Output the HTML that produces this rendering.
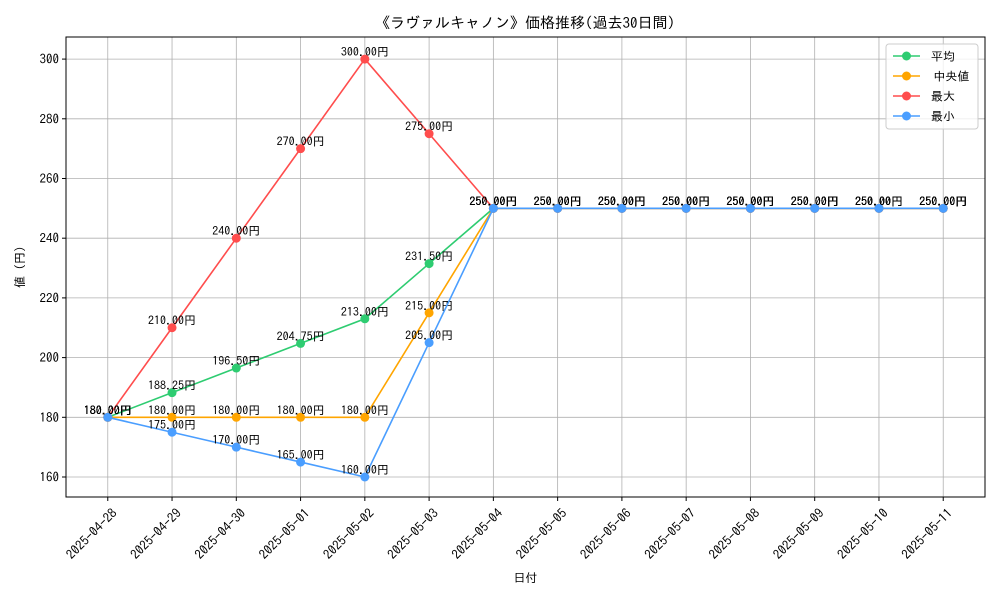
<!DOCTYPE html>
<html><head><meta charset="utf-8"><style>
body{margin:0;background:#fff}
svg text{font-family:"IPAGothic","Liberation Sans","Noto Sans CJK JP",sans-serif;fill:#000}
</style></head><body>
<svg id="c" width="1000" height="600" xmlns="http://www.w3.org/2000/svg"></svg>
<script>
const categories=["2025-04-28","2025-04-29","2025-04-30","2025-05-01","2025-05-02","2025-05-03","2025-05-04","2025-05-05","2025-05-06","2025-05-07","2025-05-08","2025-05-09","2025-05-10","2025-05-11"];
const avgValues=[180,188.25,196.5,204.75,213,231.5,250,250,250,250,250,250,250,250];
const medianValues=[180,180,180,180,180,215,250,250,250,250,250,250,250,250];
const maxValues=[180,210,240,270,300,275,250,250,250,250,250,250,250,250];
const minValues=[180,175,170,165,160,205,250,250,250,250,250,250,250,250];
const yTicks=[160,180,200,220,240,260,280,300];
const seriesNames=["平均","\u2009中央値","最大","最小"];

const svg=document.getElementById('c');
const NS="http://www.w3.org/2000/svg";
const L=66,R=985,T=37,B=497;
const yMin=153.3,yMax=307.4;
const xs=i=>L+(i+0.65)/(categories.length-1+1.3)*(R-L);
const ys=v=>B-(v-yMin)/(yMax-yMin)*(B-T);
function mk(tag,attrs,parent){const e=document.createElementNS(NS,tag);for(const k in attrs)e.setAttribute(k,attrs[k]);(parent||svg).appendChild(e);return e;}

const t=mk('text',{x:525,y:28,'text-anchor':'middle','font-size':15});


t.textContent="《ラヴァルキャノン》価格推移(過去30日間)";

const grid=mk('g',{});


categories.forEach((c,i)=>{
  const x=xs(i);
  mk('line',{x1:x,x2:x,y1:T,y2:B,stroke:'#b0b0b0','stroke-width':0.8},grid);
  mk('line',{x1:x,x2:x,y1:B,y2:B+4,stroke:'#000'},grid);
  const lb=mk('text',{x:0,y:0,'font-size':13,'text-anchor':'end',transform:`translate(${x+10},${B+17}) rotate(-45)`});
  
  
  lb.textContent=c;
});
yTicks.forEach(v=>{
  const y=ys(v);
  mk('line',{x1:L,x2:R,y1:y,y2:y,stroke:'#b0b0b0','stroke-width':0.8},grid);
  mk('line',{x1:L-4,x2:L,y1:y,y2:y,stroke:'#000'},grid);
  const lb=mk('text',{x:L-7,y:y+4.5,'font-size':13,'text-anchor':'end'});
  
  
  lb.textContent=v;
});
const frame=mk('rect',{x:L,y:T,width:R-L,height:B-T,fill:'none',stroke:'#000','stroke-width':1});



const xt=mk('text',{x:(L+R)/2,y:582,'text-anchor':'middle','font-size':12});


xt.textContent="日付";
const yt=mk('text',{x:0,y:0,'text-anchor':'middle','font-size':12,transform:`translate(24,${(T+B)/2}) rotate(-90)`});


yt.textContent="値 (円)";

const series=[[avgValues,'#2ecc71','avg'],[medianValues,'#ffa500','median'],[maxValues,'#ff4d4d','max'],[minValues,'#4a9eff','min']];
series.forEach(([vals,col,nm])=>{
  const g=mk('g',{});
  
  
  mk('polyline',{points:vals.map((v,i)=>xs(i)+','+ys(v)).join(' '),fill:'none',stroke:col,'stroke-width':1.6},g);
  vals.forEach((v,i)=>{
    const p=mk('circle',{cx:xs(i),cy:ys(v),r:4.5,fill:col},g);
    
    
    const lb=mk('text',{x:xs(i),y:ys(v)-3,'text-anchor':'middle','font-size':12},g);
    
    
    lb.textContent=v.toFixed(2)+"円";
  });
});

const lg=mk('g',{});


mk('rect',{x:886,y:44,width:92,height:85,rx:3,fill:'#fff','fill-opacity':0.8,stroke:'#ccc'},lg);
series.forEach(([v,col,nm],k)=>{
  const y=56+k*20;
  const e=mk('g',{},lg);
  
  
  mk('line',{x1:893,x2:920,y1:y,y2:y,stroke:col,'stroke-width':1.6},e);
  mk('circle',{cx:906.5,cy:y,r:4.5,fill:col},e);
  const tx=mk('text',{x:931,y:y+4.5,'font-size':12},e);
  tx.textContent=seriesNames[k];
});
</script>
</body></html>
